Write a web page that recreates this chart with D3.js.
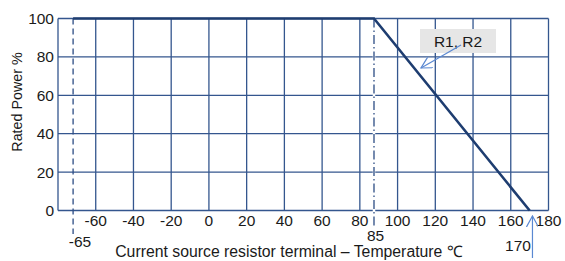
<!DOCTYPE html>
<html lang="en">
<head>
  <meta charset="UTF-8">
  <title>Power derating curve</title>
  <script src="https://d3js.org/d3.v7.min.js"></script>
  <style>
    body { margin: 0; background: #fff; }
    text { font-family: "Liberation Sans", Arial, sans-serif; fill: #1a1a1a; }
    .grid-line { stroke: #34568e; stroke-width: 1.3; }
  </style>
</head>
<body>
<script>
  // Data
  const xTicks = [-60, -40, -20, 0, 20, 40, 60, 80, 100, 120, 140, 160, 180];
  const yTicks = [0, 20, 40, 60, 80, 100];
  const curveTemp = [-72, 87.5, 170];
  const curvePower = [100, 100, 0];
  const markerTemp = [-72, 87.5, 171.5];
  const markerLabel = ['-65', '85', '170'];
  const seriesLabel = 'R1, R2';

  const width = 565, height = 261;
  const x = d3.scaleLinear().domain([-80, 180]).range([58, 548.5]);
  const y = d3.scaleLinear().domain([0, 100]).range([210.5, 18.5]);

  const svg = d3.select('body').append('svg')
    .attr('width', width)
    .attr('height', height);

  const defs = svg.append('defs');
  defs.append('marker')
    .attr('id', 'chev')
    .attr('viewBox', '0 0 12 12')
    .attr('refX', 11).attr('refY', 6)
    .attr('markerWidth', 12).attr('markerHeight', 12)
    .attr('markerUnits', 'userSpaceOnUse')
    .attr('orient', 'auto')
    .append('path')
    .attr('d', 'M0,0 L11,6 L0,12')
    .attr('fill', 'none')
    .attr('stroke', '#5a88d2')
    .attr('stroke-width', 1.2);

  // grid
  xTicks.forEach(t => {
    svg.append('line').attr('class', 'grid-line')
      .attr('x1', x(t)).attr('x2', x(t))
      .attr('y1', y(0)).attr('y2', y(100));
  });
  yTicks.forEach(t => {
    svg.append('line').attr('class', 'grid-line')
      .attr('x1', x(-80)).attr('x2', x(180))
      .attr('y1', y(t)).attr('y2', y(t));
  });
  svg.append('line').attr('class', 'grid-line')
    .attr('x1', x(-80)).attr('x2', x(-80))
    .attr('y1', y(0)).attr('y2', y(100));

  // marker lines
  svg.append('line')
    .attr('x1', x(markerTemp[0])).attr('x2', x(markerTemp[0]))
    .attr('y1', y(100)).attr('y2', 234)
    .attr('stroke', '#2c4c84').attr('stroke-width', 1.3)
    .attr('stroke-dasharray', '6,4');
  svg.append('line')
    .attr('x1', x(markerTemp[1])).attr('x2', x(markerTemp[1]))
    .attr('y1', y(100)).attr('y2', 227)
    .attr('stroke', '#fff').attr('stroke-width', 2.5);
  svg.append('line')
    .attr('x1', x(markerTemp[1])).attr('x2', x(markerTemp[1]))
    .attr('y1', y(100)).attr('y2', 227)
    .attr('stroke', '#2c4c84').attr('stroke-width', 1.3)
    .attr('stroke-dasharray', '9,3,1.5,3');

  // derating curve
  const line = d3.line().x(d => x(d[0])).y(d => y(d[1]));
  svg.append('path')
    .datum(curveTemp.map((t, i) => [t, curvePower[i]]))
    .attr('d', line)
    .attr('fill', 'none')
    .attr('stroke', '#1e3d70')
    .attr('stroke-width', 2.6);

  // tick labels
  svg.selectAll('.xl').data(xTicks).join('text')
    .attr('x', d => x(d)).attr('y', 226)
    .attr('text-anchor', 'middle')
    .attr('font-size', 15.5)
    .text(d => d);
  svg.selectAll('.yl').data(yTicks).join('text')
    .attr('x', 54).attr('y', d => y(d) + 5.5)
    .attr('text-anchor', 'end')
    .attr('font-size', 15.5)
    .text(d => d);

  // marker labels
  const mlPos = [[80, 247], [375.5, 241], [518, 251]];
  markerLabel.forEach((l, i) => {
    svg.append('text')
      .attr('x', mlPos[i][0]).attr('y', mlPos[i][1])
      .attr('text-anchor', 'middle')
      .attr('font-size', 15.5)
      .text(l);
  });

  // 170 arrow
  svg.append('line')
    .attr('x1', x(markerTemp[2])).attr('x2', x(markerTemp[2]))
    .attr('y1', 258).attr('y2', 216)
    .attr('stroke', '#5a88d2').attr('stroke-width', 1.2)
    .attr('marker-end', 'url(#chev)');

  // series label box
  svg.append('rect')
    .attr('x', 420).attr('y', 29).attr('width', 76).attr('height', 24)
    .attr('fill', '#e6e6e6');
  svg.append('text')
    .attr('x', 458).attr('y', 46.5)
    .attr('text-anchor', 'middle')
    .attr('font-size', 15.5)
    .text(seriesLabel);
  svg.append('line')
    .attr('x1', 461).attr('y1', 45)
    .attr('x2', 421).attr('y2', 68)
    .attr('stroke', '#5a88d2').attr('stroke-width', 1.2)
    .attr('marker-end', 'url(#chev)');

  // axis titles
  svg.append('text')
    .attr('x', 289).attr('y', 257)
    .attr('text-anchor', 'middle')
    .attr('font-size', 15.8)
    .text('Current source resistor terminal \u2013 Temperature \u2103');
  svg.append('text')
    .attr('transform', 'translate(22,102) rotate(-90)')
    .attr('text-anchor', 'middle')
    .attr('font-size', 14.3)
    .text('Rated Power %');
</script>
</body>
</html>
